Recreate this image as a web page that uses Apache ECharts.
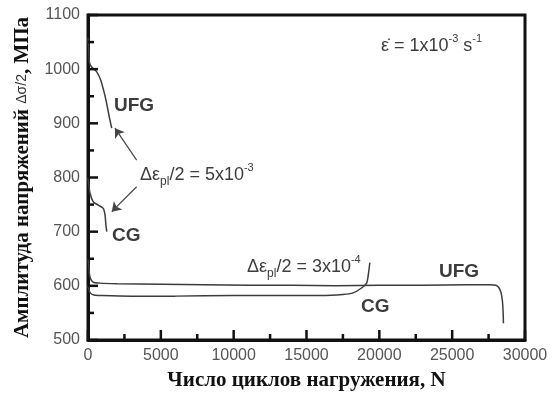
<!DOCTYPE html>
<html>
<head>
<meta charset="utf-8">
<script src="https://cdn.jsdelivr.net/npm/echarts@6/dist/echarts.min.js"></script>
<style>
  html, body { margin: 0; padding: 0; background: #fff; }
  #chart { width: 559px; height: 396px; }
</style>
</head>
<body>
<div id="chart"></div>
<script>
// Axis ranges and tick labels
const xTicks = [0, 5000, 10000, 15000, 20000, 25000, 30000];
const yTicks = [500, 600, 700, 800, 900, 1000, 1100];

// Stress amplitude vs. number of cycles, [N, MPa]
// High plastic strain amplitude (5x10^-3)
const ufgHigh = [[0, 1058], [20, 1050], [60, 1030], [100, 1012], [250, 1004], [600, 995],
  [870, 980], [1100, 958], [1280, 937], [1460, 912], [1630, 891]];
const cgHigh = [[0, 800], [40, 790], [137, 771], [364, 755], [707, 749], [1050, 743],
  [1167, 731], [1235, 711], [1290, 700]];
// Low plastic strain amplitude (3x10^-4)
const ufgLow = [[20, 650], [60, 632], [150, 615], [350, 607], [800, 605], [2000, 604],
  [5000, 603], [8000, 602], [11000, 601], [14000, 601], [17000, 600], [20000, 601],
  [23000, 601], [26000, 602], [27600, 602], [28000, 601], [28200, 597], [28350, 588],
  [28450, 572], [28500, 550], [28520, 531]];
const cgLow = [[0, 601], [50, 594], [150, 587], [400, 583], [1000, 582], [3000, 581],
  [6000, 581], [10000, 582], [14000, 582], [16000, 582], [17500, 584], [18200, 587],
  [18780, 596], [19130, 605], [19240, 620], [19300, 632], [19350, 643]];

// Arrows pointing from the 5x10^-3 label to the curve ends, [N, MPa]
const arrowUfg = [[3340, 832], [1850, 891]];
const arrowCg = [[3340, 783], [1630, 737]];

const curveColor = '#3c3c3c';
const textColor = '#3c3c3c';
const frameColor = '#111';
const serif = '"Liberation Serif", "Times New Roman", serif';
const sans = '"Liberation Sans", Arial, sans-serif';

// Tick marks: every labelled value (major) plus one minor tick between neighbours
function tickMarks(ticks) {
  const out = [];
  ticks.forEach((t, i) => {
    out.push([t, 1]);
    if (i < ticks.length - 1) out.push([(t + ticks[i + 1]) / 2, 0]);
  });
  return out;
}
const xTickMarks = tickMarks(xTicks);
const yTickMarks = tickMarks(yTicks);

const chart = echarts.init(document.getElementById('chart'), null, { renderer: 'canvas' });

function curve(data) {
  return {
    type: 'line', data: data, showSymbol: false, smooth: 0.25,
    lineStyle: { color: curveColor, width: 1.5 }, animation: false, silent: true
  };
}

// Inward ticks placed through the axis scales
function tickSeries(marks, horizontal) {
  return {
    type: 'custom', silent: true, animation: false, clip: false, z: 4,
    data: marks,
    renderItem: function (params, api) {
      const v = api.value(0);
      const len = api.value(1) ? 10 : 6;
      const p = horizontal ? api.coord([v, yTicks[0]]) : api.coord([xTicks[0], v]);
      const shape = horizontal
        ? { x1: p[0], y1: p[1], x2: p[0], y2: p[1] - len }
        : { x1: p[0], y1: p[1], x2: p[0] + len, y2: p[1] };
      return { type: 'line', shape: shape, style: { stroke: frameColor, lineWidth: 2.5 } };
    }
  };
}

const annStyleRich = {
  a: { fontFamily: sans, fontSize: 18, color: textColor, lineHeight: 26, verticalAlign: 'middle' },
  sub: { fontFamily: sans, fontSize: 12, color: textColor, lineHeight: 26, verticalAlign: 'bottom' },
  sup: { fontFamily: sans, fontSize: 11, color: textColor, lineHeight: 26, verticalAlign: 'top' }
};

function label(text, x, y, size) {
  return {
    type: 'text', left: x, top: y,
    style: { text: text, fontFamily: sans, fontWeight: 'bold', fontSize: size, fill: textColor }
  };
}

function richLabel(text, x, y) {
  return {
    type: 'text', left: x, top: y,
    style: { text: text, rich: annStyleRich, fill: textColor }
  };
}

const ufgSeries = curve(ufgHigh);
ufgSeries.markLine = {
  silent: true, animation: false,
  symbol: ['none', 'arrow'], symbolSize: 9,
  lineStyle: { color: '#444', width: 1.2, type: 'solid' },
  label: { show: false },
  data: [
    [{ coord: arrowUfg[0] }, { coord: arrowUfg[1] }],
    [{ coord: arrowCg[0] }, { coord: arrowCg[1] }]
  ]
};

const plain = v => String(v);

function axis(ticks) {
  return {
    type: 'value', min: ticks[0], max: ticks[ticks.length - 1], interval: ticks[1] - ticks[0],
    axisLine: { show: true, onZero: false, lineStyle: { color: frameColor, width: 3 } },
    axisTick: { show: false },
    axisLabel: { fontFamily: sans, fontSize: 16, color: '#555', margin: 8, formatter: plain },
    splitLine: { show: false }
  };
}

const xAxis = axis(xTicks);
Object.assign(xAxis, {
  name: 'Число циклов нагружения, N', nameLocation: 'middle', nameGap: 30,
  nameTextStyle: { fontFamily: serif, fontWeight: 'bold', fontSize: 21, color: '#111' }
});
const yAxis = axis(yTicks);
Object.assign(yAxis, {
  name: '{b|Амплитуда напряжений }{s|Δσ/2}{b|, МПа}',
  nameLocation: 'middle', nameGap: 55, nameRotate: 90,
  nameTextStyle: {
    rich: {
      b: { fontFamily: serif, fontWeight: 'bold', fontSize: 21, color: '#111' },
      s: { fontFamily: sans, fontSize: 14, color: '#333' }
    }
  }
});

const option = {
  backgroundColor: '#fff',
  animation: false,
  // grid border draws the closed frame (top and right sides)
  grid: { left: 88, right: 34, top: 15, bottom: 56, show: true, borderColor: frameColor, borderWidth: 3, backgroundColor: 'transparent' },
  xAxis: xAxis,
  yAxis: yAxis,
  series: [
    ufgSeries, curve(cgHigh), curve(ufgLow), curve(cgLow),
    tickSeries(xTickMarks, true), tickSeries(yTickMarks, false)
  ],
  graphic: [
    label('UFG', 114, 96, 19),
    label('CG', 112, 226, 19),
    label('UFG', 439, 262, 19),
    label('CG', 361, 297, 19),
    richLabel('{a|Δε}{sub|pl}{a|/2 = 5x10}{sup|-3}', 140, 162),
    richLabel('{a|Δε}{sub|pl}{a|/2 = 3x10}{sup|-4}', 247, 254),
    richLabel('{a|ε̇ = 1x10}{sup|-3}{a| s}{sup|-1}', 381, 33)
  ]
};

chart.setOption(option);
</script>
</body>
</html>
